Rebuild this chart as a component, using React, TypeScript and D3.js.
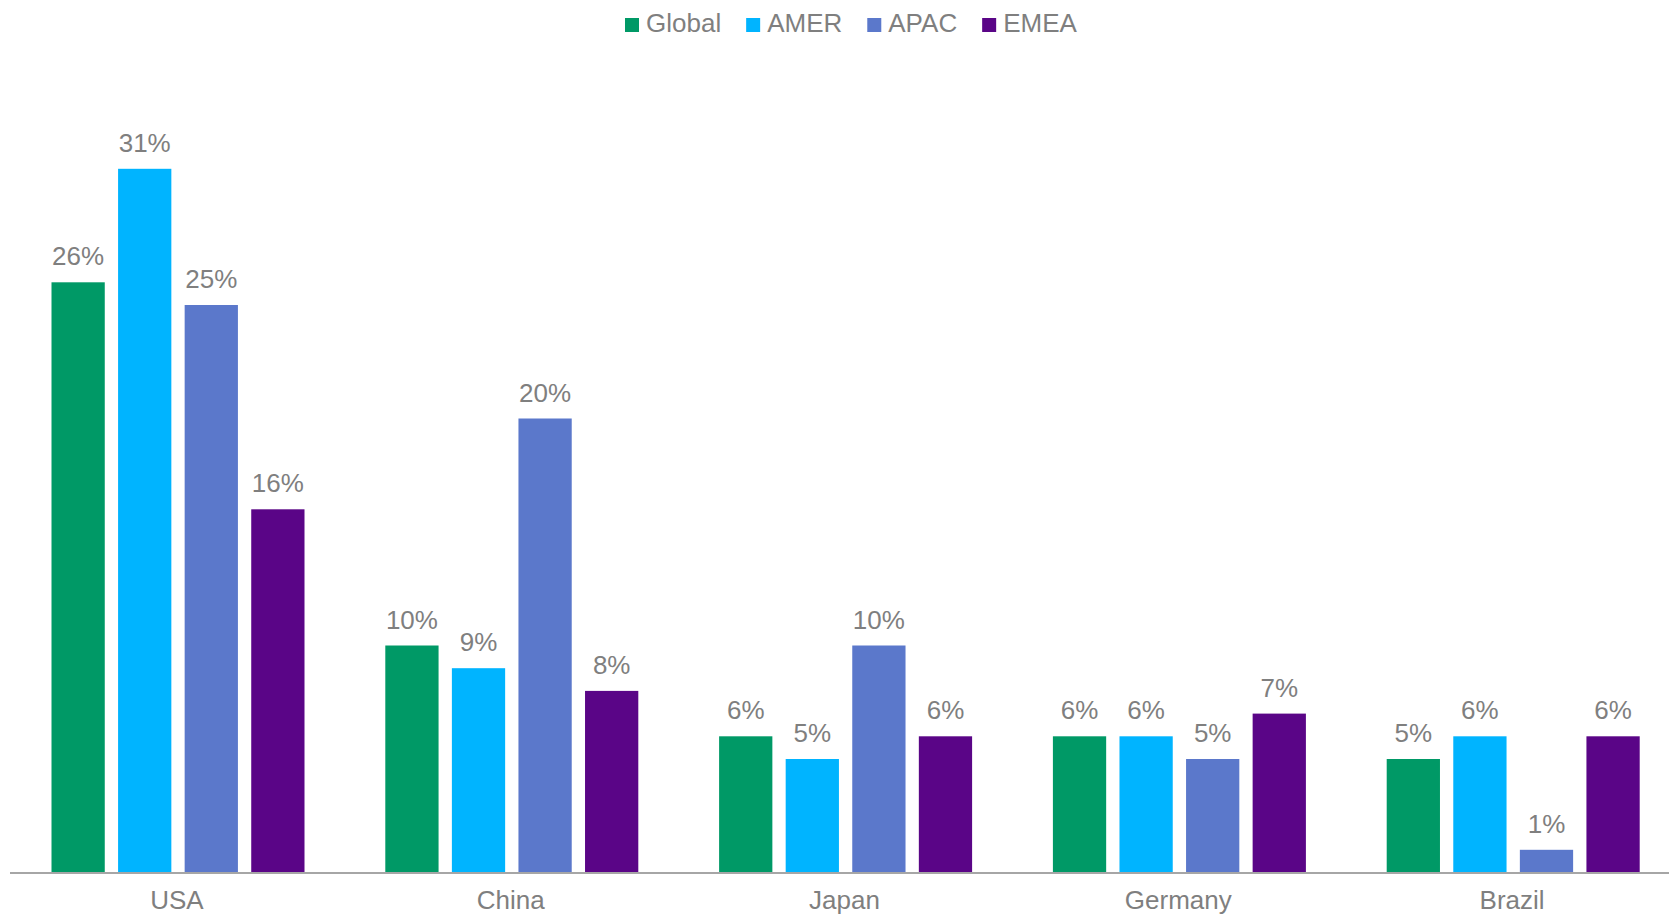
import { useEffect, useRef } from 'react'
import * as d3 from 'd3'

const countries = ['USA', 'China', 'Japan', 'Germany', 'Brazil']
const regions = ['Global', 'AMER', 'APAC', 'EMEA']
const globalValues = [26, 10, 6, 6, 5]
const amerValues = [31, 9, 5, 6, 6]
const apacValues = [25, 20, 10, 5, 1]
const emeaValues = [16, 8, 6, 7, 6]
const colors = ['#009966', '#00B4FF', '#5B78CB', '#5A0587']

const width = 1669
const height = 917

export default function App() {
    const ref = useRef<SVGSVGElement>(null)

    useEffect(() => {
        draw()
    })

    const draw = () => {
        const series = [globalValues, amerValues, apacValues, emeaValues]
        const svg = d3.select(ref.current)
        svg.selectAll('*').remove()

        const font = '"Liberation Sans", Arial, sans-serif'
        const textColor = '#7F7F7F'

        // outer band per country, runs past the right edge like the original
        const x0 = d3.scaleBand().domain(countries).range([10, 1679])
        const x1 = d3.scaleBand()
            .domain(regions)
            .range([41.5, x0.bandwidth() - 39.3])
            .paddingInner(0.2)
        const y = d3.scaleLinear().domain([0, 35]).range([872.5, 78])

        const groups = svg.selectAll('g.country')
            .data(countries)
            .enter()
            .append('g')
            .attr('class', 'country')
            .attr('transform', d => `translate(${x0(d)},0)`)

        regions.forEach((r, ri) => {
            groups.append('rect')
                .attr('x', x1(r))
                .attr('y', (d, i) => y(series[ri][i]))
                .attr('width', x1.bandwidth())
                .attr('height', (d, i) => y(0) - y(series[ri][i]))
                .attr('fill', colors[ri])

            groups.append('text')
                .attr('x', x1(r) + x1.bandwidth() / 2)
                .attr('y', (d, i) => y(series[ri][i]) - 17)
                .attr('text-anchor', 'middle')
                .attr('font-family', font)
                .attr('font-size', 26)
                .attr('fill', textColor)
                .text((d, i) => series[ri][i] + '%')
        })

        // axis line
        svg.append('line')
            .attr('x1', 10)
            .attr('x2', width)
            .attr('y1', y(0) + 0.5)
            .attr('y2', y(0) + 0.5)
            .attr('stroke', '#A6A6A6')
            .attr('stroke-width', 2)

        // category labels, nudged up so descenders stay inside
        svg.selectAll('text.cat')
            .data(countries)
            .enter()
            .append('text')
            .attr('class', 'cat')
            .attr('x', d => x0(d) + x0.bandwidth() / 2)
            .attr('y', 909)
            .attr('text-anchor', 'middle')
            .attr('font-family', font)
            .attr('font-size', 26)
            .attr('fill', textColor)
            .text(d => d)

        // legend
        let lx = 625
        regions.forEach((r, ri) => {
            svg.append('rect')
                .attr('x', lx)
                .attr('y', 18)
                .attr('width', 14)
                .attr('height', 14)
                .attr('fill', colors[ri])
            const t = svg.append('text')
                .attr('x', lx + 21)
                .attr('y', 32)
                .attr('font-family', font)
                .attr('font-size', 26)
                .attr('fill', textColor)
                .text(r)
            const w = (t.node() as SVGTextElement).getComputedTextLength()
            lx += 21 + w + 25
        })
    }

    return (
        <svg
            ref={ref}
            width={width}
            height={height}
            style={{ position: 'absolute', left: 0, top: 0, background: '#fff' }}
        />
    )
}
